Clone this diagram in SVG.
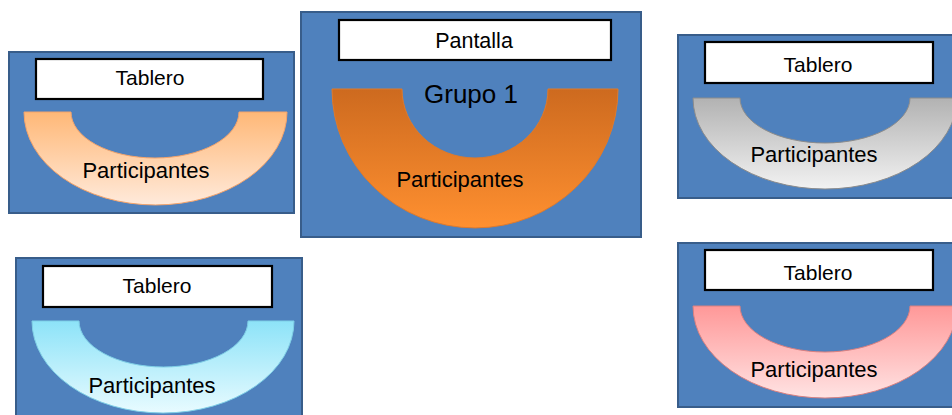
<svg xmlns="http://www.w3.org/2000/svg" width="952" height="415" viewBox="0 0 952 415">
<defs>
<linearGradient id="gPeach" x1="0" y1="0" x2="0" y2="1"><stop offset="0" stop-color="#FFB877"/><stop offset="1" stop-color="#FFEADB"/></linearGradient>
<linearGradient id="gOrange" x1="0" y1="0" x2="0" y2="1"><stop offset="0" stop-color="#CD6A1F"/><stop offset="1" stop-color="#FF9030"/></linearGradient>
<linearGradient id="gGray" x1="0" y1="0" x2="0" y2="1"><stop offset="0" stop-color="#B2B2B2"/><stop offset="1" stop-color="#F2F2F2"/></linearGradient>
<linearGradient id="gPink" x1="0" y1="0" x2="0" y2="1"><stop offset="0" stop-color="#FF9898"/><stop offset="1" stop-color="#FFE3E3"/></linearGradient>
<linearGradient id="gCyan" x1="0" y1="0" x2="0" y2="1"><stop offset="0" stop-color="#8DE3F8"/><stop offset="1" stop-color="#E8FBFF"/></linearGradient>
</defs>
<style>
.panel{fill:#4F81BD;stroke:#385D8A;stroke-width:2}
.board{fill:#FFFFFF;stroke:#000000;stroke-width:2.2}
.arc{stroke-width:1}
.t{font-family:"Liberation Sans",Arial,sans-serif;fill:#000000;text-anchor:middle}
.lbl{font-size:21px}
.part{font-size:22px}
</style>

<g id="panel-top-left">
<rect class="panel" x="9" y="52" width="285" height="161"/>
<rect class="board" x="36" y="59" width="227" height="40"/>
<text class="t lbl" x="150" y="85">Tablero</text>
<path class="arc" fill="url(#gPeach)" stroke="#F4A36A" d="M24,112 A131.5,93 0 0 0 287,112 L239,112 A84,46 0 0 1 71,112 Z"/>
<text class="t part" x="146" y="178">Participantes</text>
</g>

<g id="panel-center">
<rect class="panel" x="301" y="12" width="340" height="225"/>
<rect class="board" x="339" y="20" width="272" height="40"/>
<text class="t" style="font-size:21.5px" x="474" y="48">Pantalla</text>
<path class="arc" fill="url(#gOrange)" stroke="#E07A2A" d="M332,89 A143,139 0 0 0 618,89 L548,89 A73,69 0 0 1 402,89 Z"/>
<text class="t" style="font-size:26px" x="471" y="103">Grupo 1</text>
<text class="t part" x="460" y="187">Participantes</text>
</g>

<g id="panel-top-right">
<rect class="panel" x="678" y="35" width="282" height="163"/>
<rect class="board" x="705" y="42" width="228" height="41"/>
<text class="t lbl" x="818" y="72">Tablero</text>
<path class="arc" fill="url(#gGray)" stroke="#8C8C8C" d="M693,98 A132,91 0 0 0 957,98 L910,98 A85,45 0 0 1 740,98 Z"/>
<text class="t part" x="814" y="162">Participantes</text>
</g>

<g id="panel-bottom-right">
<rect class="panel" x="678" y="243" width="282" height="164"/>
<rect class="board" x="705" y="250" width="228" height="40"/>
<text class="t lbl" x="818" y="280">Tablero</text>
<path class="arc" fill="url(#gPink)" stroke="#D98080" d="M693,306 A132,92 0 0 0 957,306 L910,306 A85,46 0 0 1 740,306 Z"/>
<text class="t part" x="814" y="377">Participantes</text>
</g>

<g id="panel-bottom-left">
<rect class="panel" x="16" y="258" width="286" height="170"/>
<rect class="board" x="43" y="266" width="229" height="41"/>
<text class="t lbl" x="157" y="293">Tablero</text>
<path class="arc" fill="url(#gCyan)" stroke="#7FCFE6" d="M32,321 A131,92 0 0 0 294,321 L248,321 A84.5,46 0 0 1 79,321 Z"/>
<text class="t part" x="152" y="393">Participantes</text>
</g>

<g id="connectors"></g>
</svg>
